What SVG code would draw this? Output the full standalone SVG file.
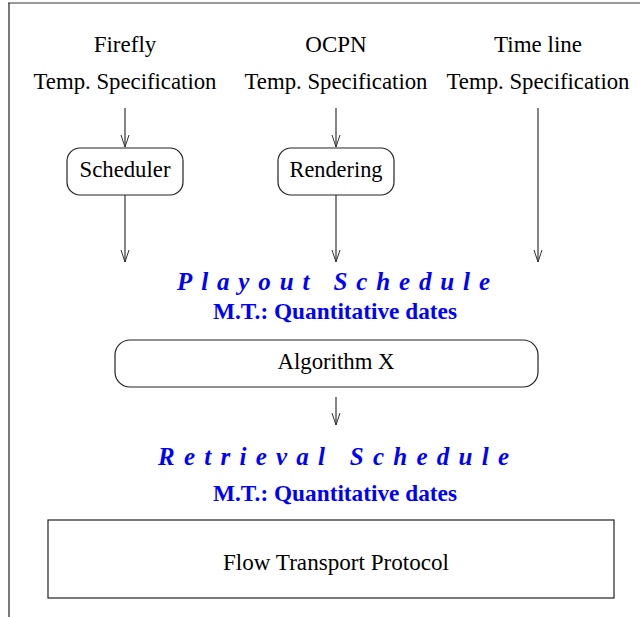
<svg xmlns="http://www.w3.org/2000/svg" width="640" height="617" viewBox="0 0 640 617">
<defs>
<marker id="arr" markerUnits="userSpaceOnUse" markerWidth="16" markerHeight="12" viewBox="-14 -6 16 12" refX="0" refY="0" orient="auto">
<polyline points="-12,-4 0,0 -12,4" fill="none" stroke="#333" stroke-width="1"/>
</marker>
</defs>
<style>
.t{font-family:"Liberation Serif","Times New Roman",serif;font-size:23px;fill:#000;text-anchor:middle}
.b{font-family:"Liberation Serif","Times New Roman",serif;font-size:23px;font-weight:bold;fill:#0000ff}
.bi{font-family:"Liberation Serif","Times New Roman",serif;font-size:25px;font-weight:bold;font-style:italic;fill:#0000ff}
.box{fill:#fff;stroke:#222;stroke-width:1.2}
.c{stroke:#333;stroke-width:1.2;fill:none;marker-end:url(#arr)}
</style>
<rect width="640" height="617" fill="#fff"/>
<line x1="8" y1="3" x2="640" y2="3" stroke="#777" stroke-width="1.5"/>
<line x1="9" y1="3" x2="9" y2="617" stroke="#222" stroke-width="1.2"/>

<g id="firefly-spec">
<text class="t" x="125" y="52">Firefly</text>
<text class="t" x="125" y="89" textLength="183" lengthAdjust="spacingAndGlyphs">Temp. Specification</text>
</g>
<g id="ocpn-spec">
<text class="t" x="336" y="52">OCPN</text>
<text class="t" x="336" y="89" textLength="183" lengthAdjust="spacingAndGlyphs">Temp. Specification</text>
</g>
<g id="timeline-spec">
<text class="t" x="538" y="52">Time line</text>
<text class="t" x="538" y="89" textLength="183" lengthAdjust="spacingAndGlyphs">Temp. Specification</text>
</g>

<g id="scheduler">
<rect class="box" x="67" y="148" width="116" height="47" rx="13"/>
<text class="t" x="125" y="177" textLength="91" lengthAdjust="spacingAndGlyphs">Scheduler</text>
</g>
<g id="rendering">
<rect class="box" x="278" y="148" width="116" height="47" rx="13"/>
<text class="t" x="336" y="177" textLength="93" lengthAdjust="spacingAndGlyphs">Rendering</text>
</g>

<g id="playout-schedule">
<text class="bi" x="177" y="290" textLength="313" lengthAdjust="spacing">Playout  Schedule</text>
<text class="b" x="213" y="319" textLength="244" lengthAdjust="spacingAndGlyphs">M.T.: Quantitative dates</text>
</g>

<g id="algorithm-x">
<rect class="box" x="115" y="340" width="423" height="47" rx="15"/>
<text class="t" x="336" y="369" textLength="117" lengthAdjust="spacingAndGlyphs">Algorithm X</text>
</g>

<g id="retrieval-schedule">
<text class="bi" x="158" y="465" textLength="351" lengthAdjust="spacing">Retrieval  Schedule</text>
<text class="b" x="213" y="501" textLength="244" lengthAdjust="spacingAndGlyphs">M.T.: Quantitative dates</text>
</g>

<g id="flow-transport-protocol">
<rect class="box" x="48" y="520" width="566" height="78"/>
<text class="t" x="336" y="570" textLength="226" lengthAdjust="spacingAndGlyphs">Flow Transport Protocol</text>
</g>

<g id="connectors">
<line class="c" x1="125" y1="108" x2="125" y2="147"/>
<line class="c" x1="336" y1="108" x2="336" y2="147"/>
<line class="c" x1="125" y1="195" x2="125" y2="262"/>
<line class="c" x1="336" y1="195" x2="336" y2="262"/>
<line class="c" x1="538" y1="108" x2="538" y2="262"/>
<line class="c" x1="336" y1="397" x2="336" y2="425"/>
</g>
</svg>
